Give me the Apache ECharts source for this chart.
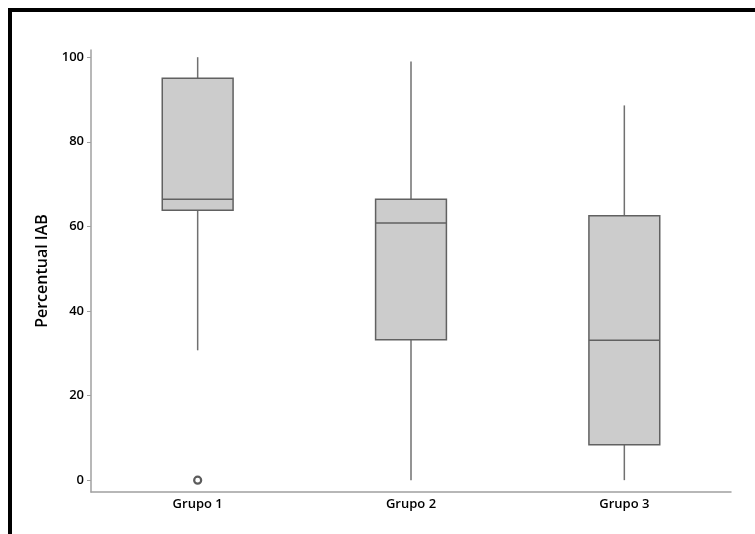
<!DOCTYPE html>
<html>
<head>
<meta charset="utf-8">
<script src="https://cdn.jsdelivr.net/npm/echarts@6/dist/echarts.min.js"></script>
<style>
  html, body { margin: 0; padding: 0; background: #fff; }
  #frame { position: absolute; left: 8px; top: 8px; width: 747px; height: 526px;
           border-top: 4px solid #000; border-left: 4px solid #000; box-sizing: border-box; }
  #chart { position: absolute; left: 0; top: 0; width: 755px; height: 534px; }
</style>
</head>
<body>
<div id="frame"></div>
<div id="chart"></div>
<script>
// Group labels
const categories = ['Grupo 1', 'Grupo 2', 'Grupo 3'];
// Five-number summaries: [lower whisker, Q1, median, Q3, upper whisker]
const whiskerLow = [30.7, 0, 0];
const q1 = [63.8, 33.2, 8.4];
const median = [66.4, 60.8, 33.1];
const q3 = [95.0, 66.4, 62.5];
const whiskerHigh = [100, 99, 88.6];
// Outliers: [group index, value]
const outliers = [[0, 0]];
// Y-axis tick values
const yTicks = [0, 20, 40, 60, 80, 100];

const boxData = categories.map((c, i) => [i, whiskerLow[i], q1[i], median[i], q3[i], whiskerHigh[i]]);

const chart = echarts.init(document.getElementById('chart'), null, { renderer: 'canvas' });
const font = '"Open Sans", "Noto Sans", sans-serif';

chart.setOption({
  animation: false,
  backgroundColor: 'transparent',
  grid: { left: 91, right: 24, top: 50, bottom: 42 },
  xAxis: {
    type: 'category',
    data: categories,
    boundaryGap: true,
    axisLine: { onZero: false, lineStyle: { color: '#a0a0a0', width: 1.5 } },
    axisTick: { alignWithLabel: true, length: 4, lineStyle: { color: '#a0a0a0' } },
    axisLabel: { color: '#000', fontFamily: font, fontWeight: 600, fontSize: 13, margin: 6 },
    splitLine: { show: false }
  },
  yAxis: {
    type: 'value',
    min: -2.8,
    max: 101.7,
    name: 'Percentual IAB',
    nameLocation: 'middle',
    nameGap: 35,
    nameTextStyle: { color: '#000', fontFamily: font, fontWeight: 600, fontSize: 16 },
    axisLine: { show: true, onZero: false, lineStyle: { color: '#a0a0a0', width: 1.5 } },
    axisTick: { show: true, length: 4, customValues: yTicks, lineStyle: { color: '#a0a0a0' } },
    axisLabel: { customValues: yTicks, color: '#000', fontFamily: font, fontWeight: 600, fontSize: 13, margin: 7 },
    splitLine: { show: false }
  },
  series: [
    {
      type: 'custom',
      data: boxData,
      encode: { x: 0, y: [1, 2, 3, 4, 5] },
      renderItem: function (params, api) {
        const idx = api.value(0);
        const half = api.size([1, 0])[0] * 0.166;
        const pLow = api.coord([idx, api.value(1)]);
        const pQ1 = api.coord([idx, api.value(2)]);
        const pMed = api.coord([idx, api.value(3)]);
        const pQ3 = api.coord([idx, api.value(4)]);
        const pHigh = api.coord([idx, api.value(5)]);
        const x = pQ1[0];
        const line = { stroke: '#707070', lineWidth: 1.5 };
        return {
          type: 'group',
          children: [
            { type: 'line', shape: { x1: x, y1: pHigh[1], x2: x, y2: pQ3[1] }, style: line },
            { type: 'line', shape: { x1: x, y1: pQ1[1], x2: x, y2: pLow[1] }, style: line },
            { type: 'rect', shape: { x: x - half, y: pQ3[1], width: half * 2, height: pQ1[1] - pQ3[1] },
              style: { fill: '#cccccc', stroke: '#616161', lineWidth: 1.5 } },
            { type: 'line', shape: { x1: x - half, y1: pMed[1], x2: x + half, y2: pMed[1] },
              style: { stroke: '#616161', lineWidth: 1.5 } }
          ]
        };
      }
    },
    {
      type: 'scatter',
      data: outliers,
      symbol: 'circle',
      symbolSize: 7,
      itemStyle: { color: '#fff', borderColor: '#333', borderWidth: 2.2 }
    }
  ]
});
</script>
</body>
</html>
